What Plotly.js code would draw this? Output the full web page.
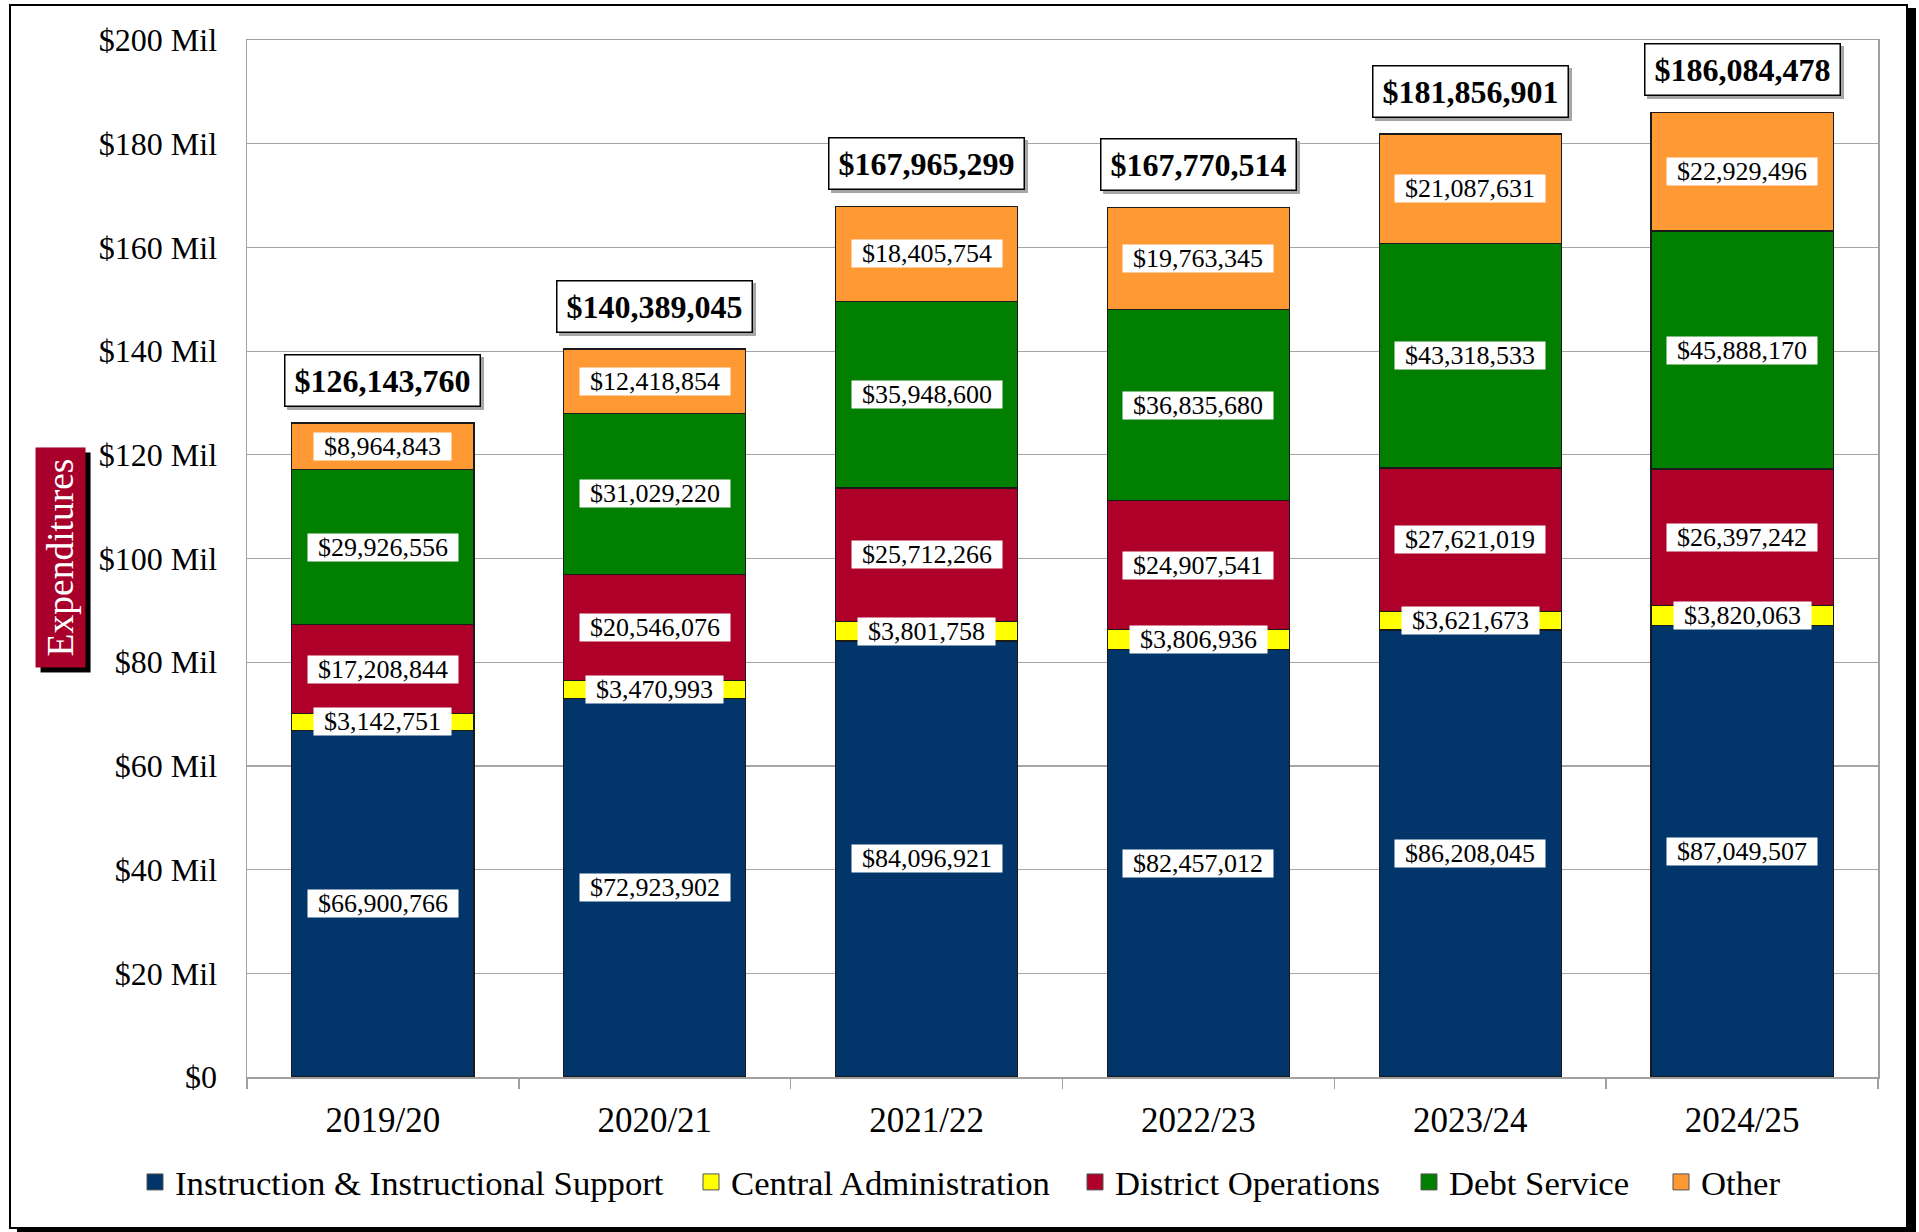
<!DOCTYPE html>
<html><head><meta charset="utf-8">
<script src="https://cdn.plot.ly/plotly-3.0.1.min.js"></script>
<style>
html,body{margin:0;padding:0;background:#fff;overflow:hidden;}
#frame{position:absolute;left:9px;top:4px;width:1895px;height:1221px;border:2px solid #000;box-shadow:8px 4px 0 #000;background:#fff;}
#chart{position:absolute;left:0;top:0;width:1919px;height:1232px;}
</style></head><body>
<div id="frame"></div>
<div id="chart"></div>
<script>
const years = ['2019/20','2020/21','2021/22','2022/23','2023/24','2024/25'];
const instruction = [66900766, 72923902, 84096921, 82457012, 86208045, 87049507];
const centralAdmin = [3142751, 3470993, 3801758, 3806936, 3621673, 3820063];
const districtOps = [17208844, 20546076, 25712266, 24907541, 27621019, 26397242];
const debtService = [29926556, 31029220, 35948600, 36835680, 43318533, 45888170];
const other = [8964843, 12418854, 18405754, 19763345, 21087631, 22929496];
const seriesNames = ['Instruction & Instructional Support','Central Administration','District Operations','Debt Service','Other'];
const yTickVals = [0,20e6,40e6,60e6,80e6,100e6,120e6,140e6,160e6,180e6,200e6];
const yTickText = ['$0','$20 Mil','$40 Mil','$60 Mil','$80 Mil','$100 Mil','$120 Mil','$140 Mil','$160 Mil','$180 Mil','$200 Mil'];

const seriesValues = [instruction, centralAdmin, districtOps, debtService, other];
const colors = ['#02356A','#FFFF00','#AF0029','#007F00','#FF9933'];
const FONT = '"Liberation Serif", "Times New Roman", serif';
// legend text start positions in pixels (page coords) and plot geometry
const PLOT_L = 247, PLOT_W = 1631;
const legendTextStart = [175, 731, 1115, 1449, 1701];

const fmt = v => '$' + Math.round(v).toLocaleString('en-US');
const cv = document.createElement('canvas').getContext('2d');
function textW(t, size, bold){ cv.font = (bold?'bold ':'') + size + 'px "Liberation Serif"'; return cv.measureText(t).width; }

const traces = seriesValues.map((vals,k)=>({
  type:'bar', name:seriesNames[k], x:years, y:vals, showlegend:false,
  marker:{color:colors[k], line:{color:'#1a1a1a', width:1.2}},
  hoverinfo:'skip'
}));
// legend entries (square swatches)
seriesNames.forEach((nm,k)=>{
  traces.push({type:'scatter', mode:'markers', name:nm, x:[null], y:[null], showlegend:true,
    legend: k===0 ? 'legend' : 'legend'+(k+1),
    marker:{symbol:'square', size:16, color:colors[k], line:{color:'#555', width:1}}, hoverinfo:'skip'});
});

const annotations = [];
years.forEach((yr,i)=>{
  let cum = 0;
  seriesValues.forEach(vals=>{
    const v = vals[i];
    const t = fmt(v);
    annotations.push({x:yr, y:cum+v/2, xref:'x', yref:'y', text:t, showarrow:false,
      font:{family:FONT, size:26, color:'#000'}, bgcolor:'#fff', borderpad:0,
      width:Math.round(textW(t,26,false)+20), height:27});
    cum += v;
  });
});
years.forEach((yr,i)=>{
  const tot = seriesValues.reduce((s,vals)=>s+vals[i],0);
  const t = fmt(tot);
  const w = Math.round(textW(t,32,true)+18);
  annotations.push({x:yr, y:tot, xref:'x', yref:'y', text:' ', showarrow:false, yanchor:'bottom',
    xshift:3, yshift:13, bgcolor:'#A6A6A6', bordercolor:'#A6A6A6', borderwidth:1.5, borderpad:0,
    width:w, height:50, font:{family:FONT,size:32}});
  annotations.push({x:yr, y:tot, xref:'x', yref:'y', text:'<b>'+t+'</b>', showarrow:false, yanchor:'bottom',
    yshift:16, bgcolor:'#fff', bordercolor:'#000', borderwidth:1.5, borderpad:0,
    width:w, height:50, font:{family:FONT,size:32,color:'#000'}});
});
const titleX = (60.5-PLOT_L)/PLOT_W, titleY = 0.501;
annotations.push({xref:'paper', yref:'paper', x:titleX, y:titleY, xanchor:'center', yanchor:'middle', text:' ', textangle:-90, showarrow:false,
  xshift:5, yshift:-5, bgcolor:'#000', width:215, height:45, borderpad:2, font:{family:FONT,size:37}});
annotations.push({xref:'paper', yref:'paper', x:titleX, y:titleY, xanchor:'center', yanchor:'middle', text:'Expenditures', textangle:-90, showarrow:false,
  bgcolor:'#A8002A', width:215, height:45, borderpad:2,
  font:{family:FONT,size:37.5,color:'#fff'}});

const layout = {
  width:1919, height:1232,
  paper_bgcolor:'rgba(0,0,0,0)', plot_bgcolor:'#fff',
  margin:{l:247, r:41, t:40, b:155, pad:0},
  barmode:'stack', bargap:0.33,
  font:{family:FONT, color:'#000'},
  showlegend:true,
  xaxis:{type:'category', tickson:'boundaries', ticks:'outside', ticklen:10, tickwidth:1.5, tickcolor:'#A0A0A0',
    showline:true, linecolor:'#A0A0A0', linewidth:1.5, mirror:true, showgrid:false,
    tickfont:{family:FONT, size:35, color:'#000'}, ticklabelstandoff:11},
  yaxis:{range:[0,200e6], tickvals:yTickVals, ticktext:yTickText, showgrid:true, gridcolor:'#A6A6A6', gridwidth:1.2,
    showline:true, linecolor:'#A0A0A0', linewidth:1.5, mirror:true, ticks:'', zeroline:false,
    tickfont:{family:FONT, size:32, color:'#000'}, ticklabelstandoff:22},
  annotations:annotations
};
legendTextStart.forEach((xs,k)=>{
  layout[k===0?'legend':'legend'+(k+1)] = {orientation:'h', x:(xs-40-PLOT_L)/PLOT_W, xanchor:'left',
    y:-0.1016, yanchor:'middle', font:{family:FONT, size:34.7, color:'#000'}, bgcolor:'rgba(0,0,0,0)', borderwidth:0};
});
Plotly.newPlot('chart', traces, layout, {displayModeBar:false, staticPlot:true});
</script>
</body></html>
